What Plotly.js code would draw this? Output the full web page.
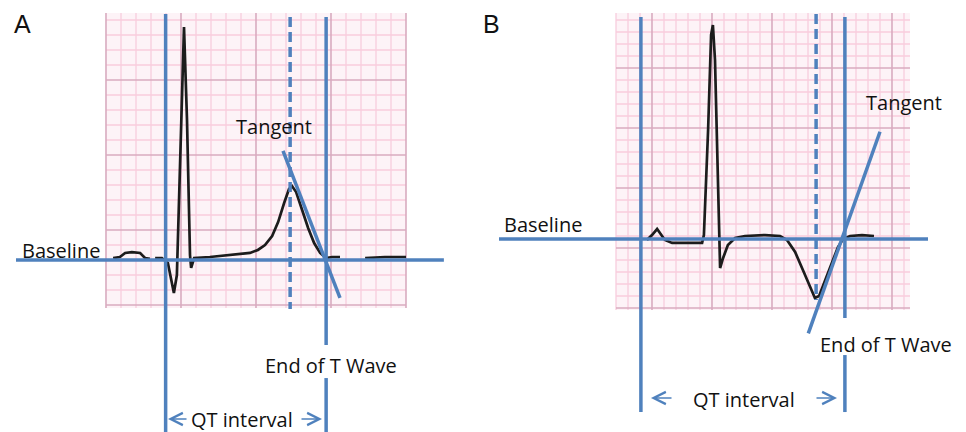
<!DOCTYPE html>
<html>
<head>
<meta charset="utf-8">
<script src="https://cdn.plot.ly/plotly-3.0.1.min.js"></script>
<style>html,body{margin:0;padding:0;background:#fff;}#chart{width:966px;height:432px;}</style>
</head>
<body>
<div id="chart"></div>
<script>
// ---------- Data (time in ms, amplitude in mV) ----------
// Panel A : upright T wave
const ecgA_t  = [19, 37, 51, 69, 91, 104, 117, null, 131, 149, 165, 176, 181, 189, 200, 208, 216, 224, 227, 235, 277, 331, 384, 405, 424, 443, 459, 475, 488, 496, 507, 523, 539, 555, 571, 587, 603, 624, null, 691, 744, 800];
const ecgA_mv = [0.013, 0.02, 0.047, 0.053, 0.047, 0.013, 0.007, null, 0.013, 0.013, -0.02, -0.167, -0.22, -0.1, 0.933, 1.553, 0.933, 0.033, -0.053, 0.013, 0.02, 0.033, 0.047, 0.067, 0.1, 0.16, 0.253, 0.38, 0.473, 0.493, 0.453, 0.333, 0.213, 0.113, 0.047, 0.013, 0.02, 0.02, null, 0.013, 0.02, 0.02];
// Panel B : inverted T wave
const ecgB_t  = [103, 120, 137, 150, 163, 187, 247, 287, 293, 307, 317, 323, 330, 340, 347, 357, 373, 397, 430, 497, 547, 570, 597, 623, 647, 663, 677, 697, 720, 740, 757, 780, 820, 860];
const ecgB_mv = [-0.008, 0.033, 0.083, 0.042, -0.008, -0.033, -0.033, -0.033, 0.033, 0.908, 1.7, 1.783, 1.492, 0.325, -0.242, -0.158, -0.05, 0.008, 0.025, 0.033, 0.025, -0.008, -0.108, -0.258, -0.408, -0.492, -0.475, -0.342, -0.192, -0.067, 0, 0.025, 0.033, 0.025];

// Measurement markers (ms / mV)
const qtStart   = {A: 159, B: 83};     // start of QRS (Q onset)
const tWaveEnd  = {A: 587, B: 763};    // end of T wave
const tWavePeak = {A: 491, B: 667};    // T peak / trough
const tangentA  = {t: [472, 624], mv: [0.727, -0.253]};
const tangentB  = {t: [641, 880], mv: [-0.786, 0.894]};

const labels = {baseline: 'Baseline', tangent: 'Tangent', tEnd: 'End of T Wave', qt: 'QT interval'};

// ---------- Styles ----------
const blue = '#4f81bd';
const ink = '#1c1c1c';
const textFont = {family: 'Open Sans, Lato, sans-serif', size: 20, color: '#111'};

// grid (ECG paper) helpers
function gridTraces(xa, ya, t0, t1, v0, v1, tMinor, vMinorStart, majorEveryT, tMajorStart, vMajorStart) {
  const mx = [], my = [], Mx = [], My = [];
  for (let t = t0; t <= t1 + 1e-6; t += tMinor) {
    const major = Math.abs(((t - tMajorStart) / majorEveryT) - Math.round((t - tMajorStart) / majorEveryT)) < 1e-6;
    (major ? Mx : mx).push(t, t, null);
    (major ? My : my).push(v0, v1, null);
  }
  for (let v = vMinorStart; v <= v1 + 1e-6; v += 0.1) {
    const k = (v - vMajorStart) / 0.5;
    const major = Math.abs(k - Math.round(k)) < 1e-6;
    (major ? Mx : mx).push(t0, t1, null);
    (major ? My : my).push(v, v, null);
  }
  return [
    {x: mx, y: my, xaxis: xa, yaxis: ya, mode: 'lines', line: {color: '#f8cddd', width: 1.3}, hoverinfo: 'skip'},
    {x: Mx, y: My, xaxis: xa, yaxis: ya, mode: 'lines', line: {color: '#d8abbf', width: 1.6}, hoverinfo: 'skip'}
  ];
}

const traces = [];
// Panel A grid: t 0..800 ms, v -0.32..1.647 mV
traces.push(...gridTraces('x', 'y', 0, 800, -0.32, 1.647, 40, -0.3, 200, 0, -0.3));
// Panel B grid: t 0..980 ms, v -0.592..1.883 mV
traces.push(...gridTraces('x2', 'y2', 0, 980, -0.592, 1.883, 40, -0.575, 200, 120, -0.075));

// ECG traces
traces.push({x: ecgA_t, y: ecgA_mv, xaxis: 'x', yaxis: 'y', mode: 'lines', line: {color: ink, width: 2.7}, connectgaps: false});
traces.push({x: ecgB_t, y: ecgB_mv, xaxis: 'x2', yaxis: 'y2', mode: 'lines', line: {color: ink, width: 2.7}, connectgaps: false});

function blueLine(xa, ya, xs, ys, dash) {
  return {x: xs, y: ys, xaxis: xa, yaxis: ya, mode: 'lines', line: {color: blue, width: 3.5, dash: dash || 'solid'}, connectgaps: false};
}
// Panel A markers
traces.push(blueLine('x', 'y', [-240, 901], [0, 0]));                         // baseline
traces.push(blueLine('x', 'y', [qtStart.A, qtStart.A], [1.64, -1.2]));         // QT start
traces.push(blueLine('x', 'y', [tWaveEnd.A, tWaveEnd.A, null, tWaveEnd.A, tWaveEnd.A], [1.62, -0.567, null, -0.787, -1.2])); // end of T
traces.push(blueLine('x', 'y', [tWavePeak.A, tWavePeak.A], [1.62, -0.327], '10px,5px')); // T peak
traces.push(blueLine('x', 'y', tangentA.t, tangentA.mv));                       // tangent
// Panel B markers
traces.push(blueLine('x2', 'y2', [-390, 1040], [0, 0]));
traces.push(blueLine('x2', 'y2', [qtStart.B, qtStart.B], [1.85, -1.442]));
traces.push(blueLine('x2', 'y2', [tWaveEnd.B, tWaveEnd.B, null, tWaveEnd.B, tWaveEnd.B], [1.85, -0.658, null, -0.967, -1.442]));
traces.push(blueLine('x2', 'y2', [tWavePeak.B, tWavePeak.B], [1.875, -0.508], '10px,5px'));
traces.push(blueLine('x2', 'y2', tangentB.t, tangentB.mv));

// ---------- Layout ----------
const W = 966, H = 432;
const px = x => x / W, py = y => 1 - y / H;
function txt(text, x, y, font, anchor) {
  return {text: text, x: px(x), y: py(y), xref: 'paper', yref: 'paper', xanchor: anchor || 'left', yanchor: 'middle', showarrow: false, font: font};
}
function arrow(headX, tailX, y) {
  return {x: px(headX), y: py(y), xref: 'paper', yref: 'paper', ax: tailX - headX, ay: 0, text: '', showarrow: true,
          arrowhead: 5, arrowsize: 1.5, arrowwidth: 1.6, arrowcolor: blue, standoff: 0};
}
const panelFont = {family: 'Liberation Sans, Arial, sans-serif', size: 25, color: '#111'};

const annotations = [
  txt('A', 12, 24, panelFont),
  txt('B', 481, 24, panelFont),
  txt(labels.baseline, 20, 250, textFont),
  txt(labels.tangent, 234, 126, textFont),
  txt(labels.tEnd, 263, 365, textFont),
  txt(labels.qt, 242, 419, textFont, 'center'),
  arrow(168, 188, 419), arrow(322, 300, 419),
  txt(labels.baseline, 502, 224, textFont),
  txt(labels.tangent, 864, 102, textFont),
  txt(labels.tEnd, 818, 344, textFont),
  txt(labels.qt, 744, 399, textFont, 'center'),
  arrow(651, 673, 398), arrow(837, 815, 398)
];

const bgA = {type: 'rect', xref: 'x', yref: 'y', x0: 0, x1: 800, y0: -0.32, y1: 1.647, fillcolor: '#fdf3f7', line: {width: 0}, layer: 'below'};
const bgB = {type: 'rect', xref: 'x2', yref: 'y2', x0: 0, x1: 980, y0: -0.592, y1: 1.883, fillcolor: '#fdf3f7', line: {width: 0}, layer: 'below'};

const axisCommon = {visible: false, showgrid: false, zeroline: false, fixedrange: true};
const layout = {
  width: W, height: H,
  margin: {l: 0, r: 0, t: 0, b: 0},
  paper_bgcolor: '#ffffff', plot_bgcolor: 'rgba(0,0,0,0)',
  showlegend: false, hovermode: false,
  xaxis:  Object.assign({}, axisCommon, {domain: [0, 0.5], range: [-282.67, 1005.33]}),
  yaxis:  Object.assign({}, axisCommon, {domain: [0, 1], range: [-1.1467, 1.7333], anchor: 'x'}),
  xaxis2: Object.assign({}, axisCommon, {domain: [0.5, 1], range: [-443.33, 1166.67], anchor: 'y2'}),
  yaxis2: Object.assign({}, axisCommon, {domain: [0, 1], range: [-1.6083, 1.9917], anchor: 'x2'}),
  shapes: [bgA, bgB],
  annotations: annotations
};

Plotly.newPlot('chart', traces, layout, {staticPlot: true, displayModeBar: false});
</script>
</body>
</html>
